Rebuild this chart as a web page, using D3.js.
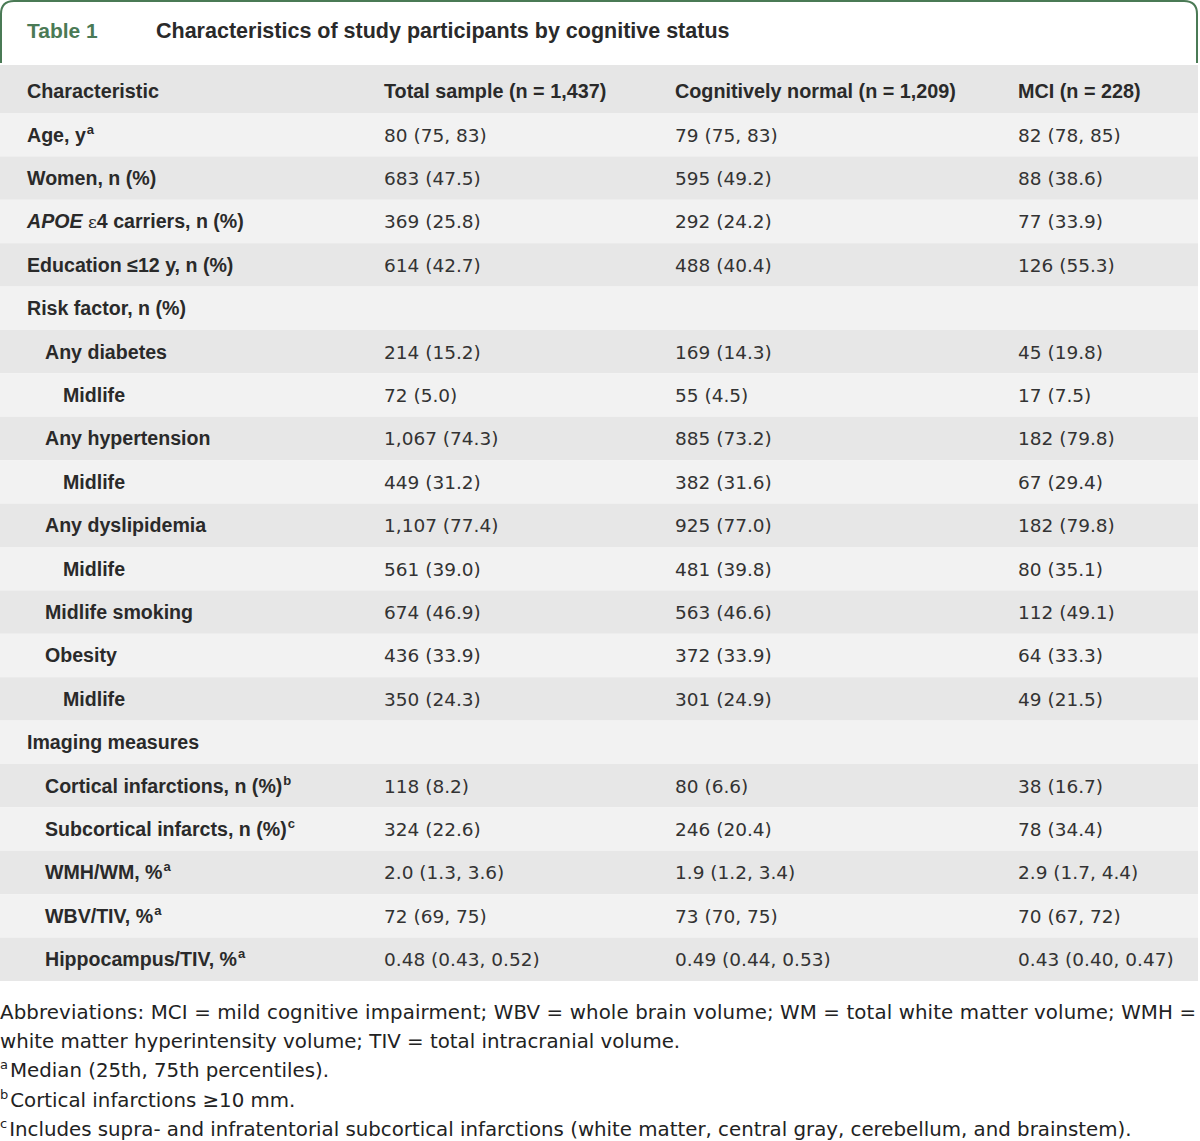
<!DOCTYPE html>
<html>
<head>
<meta charset="utf-8">
<style>
  body { margin: 0; background: #fff; }
  svg text { font-family: "Liberation Sans", Arial, sans-serif; }
  svg text.val, svg text.foot { font-family: "DejaVu Sans", sans-serif; }
</style>
<title>Table 1</title>
</head>
<body>
<div id="cont"></div>
<script src="https://cdn.jsdelivr.net/npm/d3@7"></script>
<script>
// table content
var columns = ["Characteristic", "Total sample (n = 1,437)", "Cognitively normal (n = 1,209)", "MCI (n = 228)"];

var labels = ["Age, y", "Women, n (%)", "APOE", "Education \u226412 y, n (%)", "Risk factor, n (%)",
  "Any diabetes", "Midlife", "Any hypertension", "Midlife", "Any dyslipidemia", "Midlife",
  "Midlife smoking", "Obesity", "Midlife", "Imaging measures",
  "Cortical infarctions, n (%)", "Subcortical infarcts, n (%)", "WMH/WM, %", "WBV/TIV, %", "Hippocampus/TIV, %"];
var indents = [0, 0, 0, 0, 0, 1, 2, 1, 2, 1, 2, 1, 1, 2, 0, 1, 1, 1, 1, 1];
var sups = ["a", "", "", "", "", "", "", "", "", "", "", "", "", "", "", "b", "c", "a", "a", "a"];

var totalSample = ["80 (75, 83)", "683 (47.5)", "369 (25.8)", "614 (42.7)", "",
  "214 (15.2)", "72 (5.0)", "1,067 (74.3)", "449 (31.2)", "1,107 (77.4)", "561 (39.0)",
  "674 (46.9)", "436 (33.9)", "350 (24.3)", "",
  "118 (8.2)", "324 (22.6)", "2.0 (1.3, 3.6)", "72 (69, 75)", "0.48 (0.43, 0.52)"];
var cogNormal = ["79 (75, 83)", "595 (49.2)", "292 (24.2)", "488 (40.4)", "",
  "169 (14.3)", "55 (4.5)", "885 (73.2)", "382 (31.6)", "925 (77.0)", "481 (39.8)",
  "563 (46.6)", "372 (33.9)", "301 (24.9)", "",
  "80 (6.6)", "246 (20.4)", "1.9 (1.2, 3.4)", "73 (70, 75)", "0.49 (0.44, 0.53)"];
var mci = ["82 (78, 85)", "88 (38.6)", "77 (33.9)", "126 (55.3)", "",
  "45 (19.8)", "17 (7.5)", "182 (79.8)", "67 (29.4)", "182 (79.8)", "80 (35.1)",
  "112 (49.1)", "64 (33.3)", "49 (21.5)", "",
  "38 (16.7)", "78 (34.4)", "2.9 (1.7, 4.4)", "70 (67, 72)", "0.43 (0.40, 0.47)"];

var footnotes = [
  { sup: "", text: "Abbreviations: MCI = mild cognitive impairment; WBV = whole brain volume; WM = total white matter volume; WMH =" },
  { sup: "", text: "white matter hyperintensity volume; TIV = total intracranial volume." },
  { sup: "a", text: "Median (25th, 75th percentiles)." },
  { sup: "b", text: "Cortical infarctions \u226510 mm." },
  { sup: "c", text: "Includes supra- and infratentorial subcortical infarctions (white matter, central gray, cerebellum, and brainstem)." }
];

var width = 1200, height = 1141;
var green = "#4a7a55";

var svg = d3.select("#cont").append("svg")
  .attr("width", width)
  .attr("height", height);

// title box
svg.append("path")
  .attr("d", "M1,63 V14 Q1,1 14,1 H1184 Q1197,1 1197,14 V63")
  .attr("fill", "none")
  .attr("stroke", green)
  .attr("stroke-width", 2);

svg.append("text")
  .attr("x", 27).attr("y", 38)
  .style("font-size", "21px").style("font-weight", "bold")
  .attr("fill", green)
  .text("Table 1");

svg.append("text")
  .attr("x", 156).attr("y", 38)
  .style("font-size", "21.5px").style("font-weight", "bold")
  .attr("fill", "#2a2a2a")
  .text("Characteristics of study participants by cognitive status");

// column positions
var colX = [27, 384, 675, 1018];

// header row
svg.append("rect")
  .attr("x", 0).attr("y", 65)
  .attr("width", 1198).attr("height", 48)
  .attr("fill", "#e6e6e6");

svg.selectAll(".head")
  .data(columns)
  .enter().append("text")
  .attr("class", "head")
  .attr("x", function (d, i) { return colX[i]; })
  .attr("y", 98)
  .style("font-size", "19.8px").style("font-weight", "bold")
  .attr("fill", "#2a2a2a")
  .text(function (d) { return d; });

// body rows
var y = d3.scaleBand()
  .domain(d3.range(labels.length))
  .range([113, 981])
  .paddingInner(0);

var rows = svg.selectAll(".row")
  .data(labels)
  .enter().append("g")
  .attr("class", "row")
  .attr("transform", function (d, i) { return "translate(0," + y(i) + ")"; });

rows.append("rect")
  .attr("x", 0)
  .attr("width", 1198)
  .attr("height", y.bandwidth())
  .attr("fill", function (d, i) { return i % 2 === 0 ? "#f2f2f2" : "#e7e7e7"; });

var labelText = rows.append("text")
  .attr("x", function (d, i) { return colX[0] + indents[i] * 18; })
  .attr("y", y.bandwidth() / 2 + 7)
  .style("font-size", "19.6px").style("font-weight", "bold")
  .attr("fill", "#2a2a2a");

labelText.each(function (d, i) {
  var t = d3.select(this);
  if (d === "APOE") {
    t.append("tspan").style("font-style", "italic").text("APOE ");
    t.append("tspan").style("font-weight", "normal")
      .style("font-family", "'DejaVu Serif', serif").style("font-size", "17px").text("\u03b5");
    t.append("tspan").text("4 carriers, n (%)");
  } else {
    t.append("tspan").text(d);
  }
  if (sups[i]) {
    t.append("tspan")
      .attr("dy", -8)
      .attr("dx", 1)
      .style("font-size", "13px")
      .text(sups[i]);
  }
});

var valueCols = [totalSample, cogNormal, mci];
valueCols.forEach(function (vals, c) {
  rows.append("text")
    .attr("class", "val")
    .attr("x", colX[c + 1])
    .attr("y", y.bandwidth() / 2 + 7)
    .style("font-size", "18.5px")
    .attr("fill", "#333")
    .text(function (d, i) { return vals[i]; });
});

// footnotes
var fn = svg.selectAll(".foot")
  .data(footnotes)
  .enter().append("text")
  .attr("class", "foot")
  .attr("x", 0)
  .attr("y", function (d, i) { return 1019 + i * 29.2; })
  .style("font-size", "19.8px")
  .attr("fill", "#222");

fn.each(function (d, i) {
  var t = d3.select(this);
  if (d.sup) {
    t.append("tspan").attr("dy", -8).style("font-size", "13px").text(d.sup);
    t.append("tspan").attr("dy", 8).attr("dx", 2).text(d.text);
  } else {
    var s = t.append("tspan").text(d.text);
    if (i === 0) s.attr("textLength", 1196).attr("lengthAdjust", "spacing");
  }
});
</script>
</body>
</html>
